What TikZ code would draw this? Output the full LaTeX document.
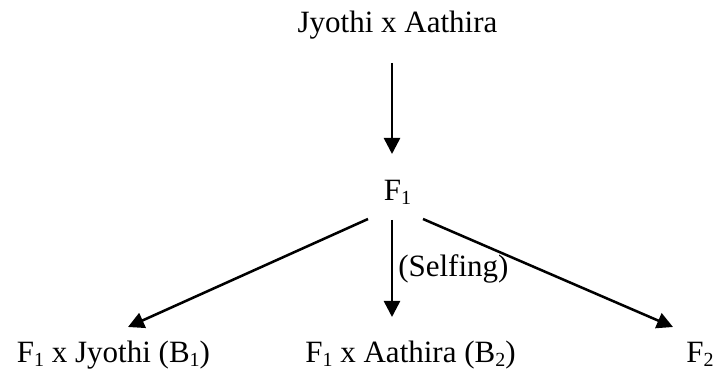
\documentclass[tikz,border=0pt]{standalone}
\usepackage{fontspec}
\setmainfont{Liberation Serif}
\usetikzlibrary{arrows.meta,calc}
\newcommand{\lo}[1]{\raisebox{-0.1em}{\fontsize{15}{15}\selectfont #1}}

\begin{document}
\begin{tikzpicture}[x=0.75pt, y=-0.75pt,
    txt/.style={anchor=base, inner sep=0pt, font=\fontsize{23.25}{28}\selectfont},
    arr/.style={-{Triangle[length=12pt,width=12pt]}, line width=1.9pt}]
    \useasboundingbox (0,0) rectangle (717,373);

    % parents and F1
    \node[txt] (cross) at (397.5,33) {Jyothi x Aathira};
    \node[txt] (f1) at (397.5,201) {F\lo{1}};
    \draw[arr] ($(cross.base)+(-5.5,30)$) -- ($(f1.base)+(-5.5,-47)$);

    % offspring
    \node[txt] (bone) at (113.5,363) {F\lo{1} x Jyothi (B\lo{1})};
    \node[txt] (btwo) at (410.5,363) {F\lo{1} x Aathira (B\lo{2})};
    \node[txt] (f2) at (700,363) {F\lo{2}};
    \node[txt, anchor=base west] (self) at (398,277) {(Selfing)};

    \draw[arr] ($(f1.base)+(-29.5,18)$) -- ($(bone.base)+(14.5,-36)$);
    \draw[arr] ($(f1.base)+(-5.5,19)$) -- ($(btwo.base)+(-18.5,-46)$);
    \draw[arr] ($(f1.base)+(25.5,18)$) -- ($(f2.base)+(-27,-36)$);
\end{tikzpicture}
\end{document}
